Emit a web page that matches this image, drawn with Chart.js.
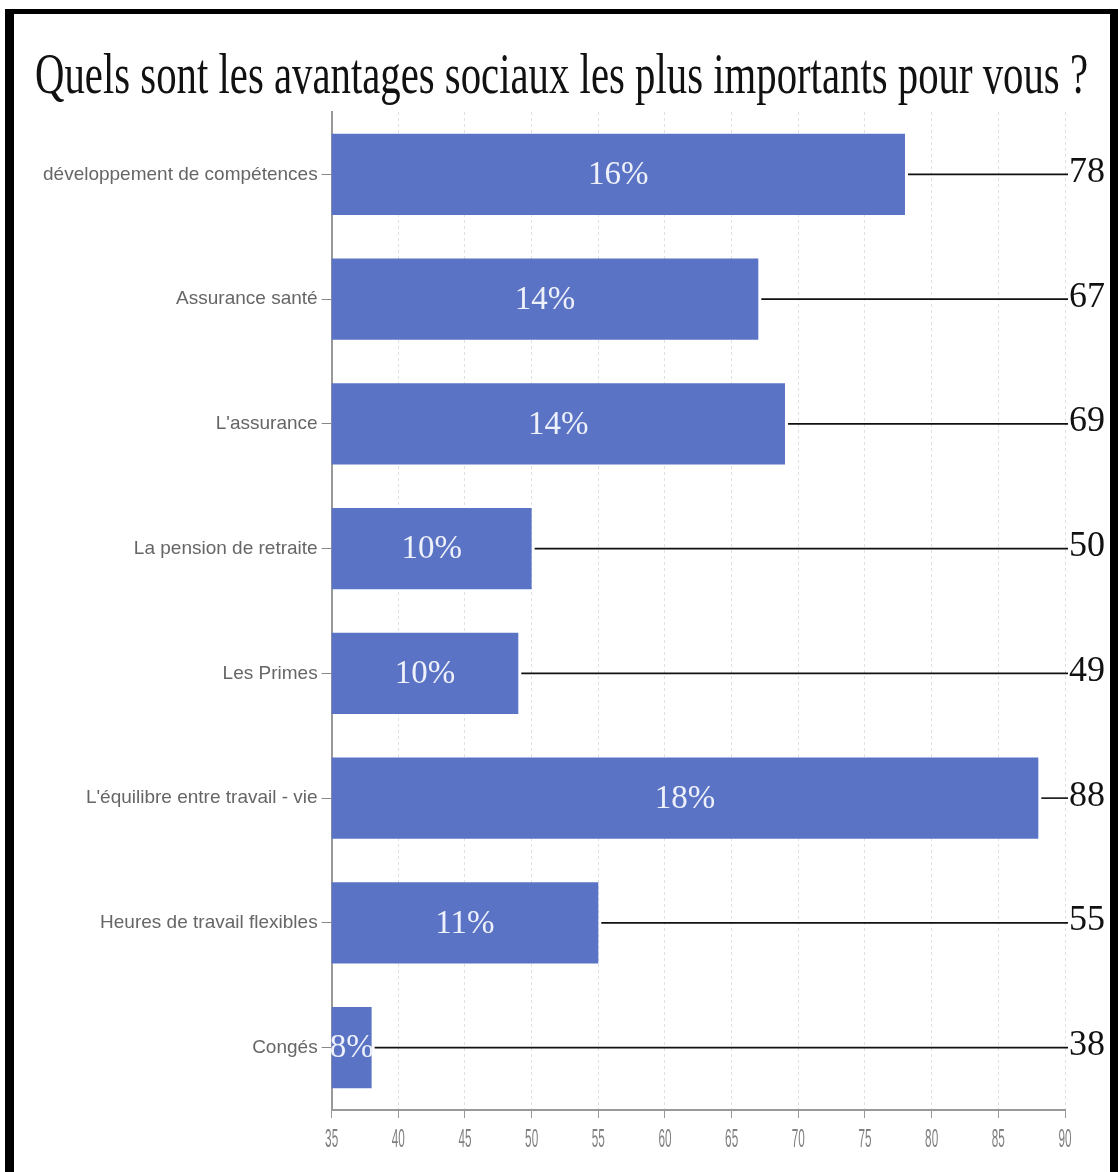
<!DOCTYPE html>
<html>
<head>
<meta charset="utf-8">
<script src="https://cdn.jsdelivr.net/npm/chart.js@4.4.1/dist/chart.umd.min.js"></script>
<style>
  html, body { margin: 0; padding: 0; background: #fff; }
  #wrap { position: relative; width: 1118px; height: 1172px; overflow: hidden; }
  #chart { position: absolute; left: 0; top: 0; }
  .frame {
    position: absolute; left: 5px; top: 9px; right: 0; bottom: -10px;
    border-left: 9px solid #000; border-top: 5px solid #000; border-right: 8px solid #000;
    pointer-events: none;
  }
</style>
</head>
<body>
<div id="wrap">
  <canvas id="chart" width="1118" height="1172"></canvas>
  <div class="frame"></div>
</div>
<script>
var titleText = "Quels sont les avantages sociaux les plus importants pour vous ?";
var categories = [
  "développement de compétences",
  "Assurance santé",
  "L'assurance",
  "La pension de retraite",
  "Les Primes",
  "L'équilibre entre travail - vie",
  "Heures de travail flexibles",
  "Congés"
];
var responses = [78, 67, 69, 50, 49, 88, 55, 38];
var shares = [16, 14, 14, 10, 10, 18, 11, 8];

// title, narrow serif stretched to the frame width
var titlePlugin = {
  id: "narrowTitle",
  afterDraw: function (chart) {
    var ctx = chart.ctx;
    ctx.save();
    ctx.font = '56px "Liberation Serif", "Times New Roman", serif';
    ctx.fillStyle = "#111";
    ctx.textBaseline = "alphabetic";
    var w = ctx.measureText(titleText).width;
    ctx.translate(35, 93);
    ctx.scale(1053 / w, 1);
    ctx.fillText(titleText, 0, 0);
    ctx.restore();
  }
};

// condensed x tick labels taken from the scale's own ticks
var xLabelsPlugin = {
  id: "xLabels",
  afterDraw: function (chart) {
    var ctx = chart.ctx;
    var xs = chart.scales.x;
    ctx.save();
    ctx.font = '25px "Liberation Sans", Arial, sans-serif';
    ctx.fillStyle = "#808080";
    ctx.textAlign = "center";
    ctx.textBaseline = "middle";
    xs.ticks.forEach(function (t) {
      var px = xs.getPixelForValue(t.value);
      ctx.save();
      ctx.translate(px, xs.bottom + 22);
      ctx.scale(0.47, 1);
      ctx.fillText(String(t.value), 0, 0);
      ctx.restore();
    });
    ctx.restore();
  }
};

// percentage inside each bar, leader line and count on the right
var barLabelsPlugin = {
  id: "barLabels",
  afterDatasetsDraw: function (chart) {
    var ctx = chart.ctx;
    var meta = chart.getDatasetMeta(0);
    var area = chart.chartArea;
    var labelX = area.right + 3;
    ctx.save();
    meta.data.forEach(function (bar, i) {
      var start = Math.max(bar.base, area.left);
      var mid = (bar.x + start) / 2;
      ctx.font = '33px "Liberation Serif", "Times New Roman", serif';
      ctx.fillStyle = "#eef1fa";
      ctx.textAlign = "center";
      ctx.textBaseline = "middle";
      ctx.fillText(shares[i] + "%", mid, bar.y + 1);

      ctx.strokeStyle = "#111";
      ctx.lineWidth = 1.6;
      ctx.beginPath();
      ctx.moveTo(bar.x + 3, bar.y);
      ctx.lineTo(labelX, bar.y);
      ctx.stroke();

      ctx.font = '36px "Liberation Serif", "Times New Roman", serif';
      ctx.fillStyle = "#111";
      ctx.textAlign = "left";
      ctx.fillText(String(responses[i]), labelX + 1, bar.y - 2);
    });
    ctx.restore();
  }
};

new Chart(document.getElementById("chart").getContext("2d"), {
  type: "bar",
  data: {
    labels: categories,
    datasets: [{
      data: responses,
      backgroundColor: "rgb(91, 115, 197)",
      borderWidth: 0,
      categoryPercentage: 0.65,
      barPercentage: 1
    }]
  },
  options: {
    indexAxis: "y",
    responsive: false,
    animation: false,
    layout: { padding: { top: 112, left: 39, right: 53, bottom: 54 } },
    plugins: {
      legend: { display: false },
      title: { display: false },
      tooltip: { enabled: false }
    },
    scales: {
      x: {
        min: 35,
        max: 90,
        ticks: { stepSize: 5, display: false },
        grid: {
          color: "#e0e0e0",
          tickLength: 8,
          tickColor: "#999",
          tickBorderDash: [],
          lineWidth: 1
        },
        border: { color: "#999", width: 2, dash: [3, 3] }
      },
      y: {
        ticks: {
          color: "#666",
          padding: 4,
          font: { family: '"Liberation Sans", Arial, sans-serif', size: 19 }
        },
        grid: { drawOnChartArea: false, offset: false, tickLength: 10, tickColor: "#888" },
        border: { color: "#999", width: 2 }
      }
    }
  },
  plugins: [titlePlugin, xLabelsPlugin, barLabelsPlugin]
});
</script>
</body>
</html>
